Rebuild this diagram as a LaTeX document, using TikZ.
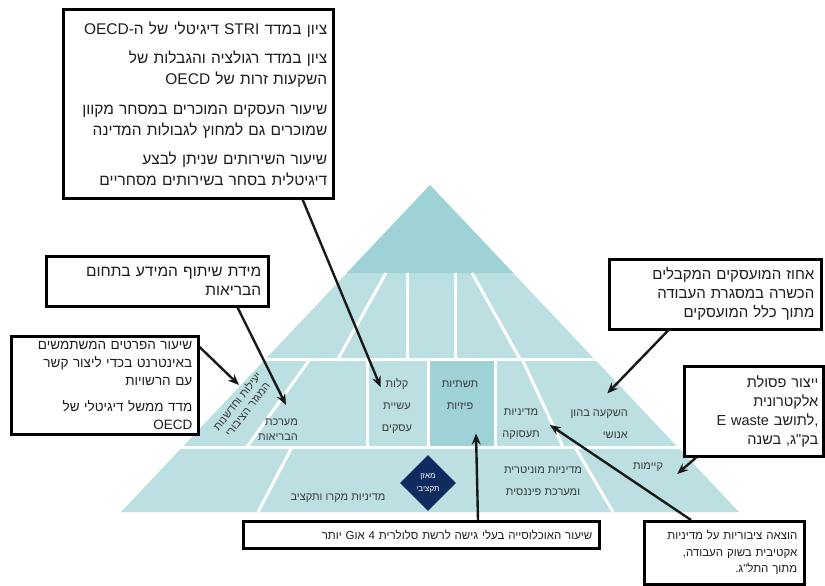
\documentclass[tikz,border=0pt]{standalone}
\usepackage{fontspec}
\setmainfont{Liberation Sans}
\newfontfamily\heb[Script=Hebrew]{Liberation Sans}
\TeXXeTstate=1
\usetikzlibrary{arrows.meta,calc,shapes.geometric}
\definecolor{pyrlight}{HTML}{BCDFE2}
\definecolor{pyrdark}{HTML}{9FD2D7}
\definecolor{navy}{HTML}{0F2B60}
\definecolor{labc}{HTML}{3A3A3A}
\definecolor{txtc}{HTML}{1E1E1E}
\newcommand\RL[1]{\beginR #1\endR}
\newcommand\LR[1]{\beginL #1\endL}
\begin{document}
\begin{tikzpicture}[x=1pt,y=-1pt,
  box/.style={draw=black, line width=2.6pt, fill=white, text=txtc, align=right,
    inner xsep=7pt, inner ysep=5pt, anchor=north west},
  lab/.style={text=labc, inner sep=0pt, align=center, font=\heb\fontsize{11}{22}\selectfont},
  wl/.style={white, line width=3pt},
  arr/.style={draw=black!90, line width=2.4pt, -{Stealth[length=11pt,width=9pt]}}]
\useasboundingbox (0,0) rectangle (825,586);

% pyramid body
\fill[pyrlight] (121,512) -- (430,185) -- (739,512) -- cycle;
\fill[pyrdark] (430,185) -- (346.8,273) -- (513.2,273) -- cycle;
\fill[pyrdark] (428,359) rectangle (495,447);
% white separations
\draw[wl] (240,359) -- (620,359);
\draw[wl] (160,447) -- (700,447);
\draw[wl] (386,273) -- (338,359);
\draw[wl] (407,273) -- (407,359);
\draw[wl] (455,273) -- (455,359);
\draw[wl] (472,273) -- (520,359);
\draw[wl] (310,359) -- (247,447);
\draw[wl] (367,359) -- (367,447);
\draw[wl] (428,359) -- (428,447);
\draw[wl] (495,359) -- (495,447);
\draw[wl] (522,359) -- (563,447);
\draw[wl] (292,447) -- (258,512);
\draw[wl] (575,447) -- (613,512);

% pyramid labels
\node[lab] (kalut) at (397,406) {\RL{קלות}\\\RL{עשיית}\\\RL{עסקים}};
\node[lab] (tashtiot) at (460,395) {\RL{תשתיות}\\\RL{פיזיות}};
\node[lab] (taasuka) at (521,424) {\RL{מדיניות}\\\RL{תעסוקה}};
\node[lab, align=right, anchor=east] (hon) at (628,424) {\RL{השקעה בהון}\\\RL{אנושי}};
\node[lab, align=right, anchor=east, font=\heb\fontsize{11}{15}\selectfont] (briut) at (298,430) {\RL{מערכת}\\\RL{הבריאות}};
\node[lab, rotate=52, font=\heb\fontsize{11}{13}\selectfont] (yeilut) at (242,405) {\RL{יעילות וחדשנות}\\\RL{המגזר הציבורי}};
\node[lab] (makro) at (338,498) {\RL{מדיניות מקרו ותקציב}};
\node[lab] (monet) at (543,481) {\RL{מדיניות מוניטרית}\\\RL{ומערכת פיננסית}};
\node[lab] (kayamut) at (648,467) {\RL{קיימות}};
\node[diamond, fill=navy, minimum width=56, minimum height=56, inner sep=0pt, text=white,
  align=center, font=\heb\fontsize{8}{13}\selectfont] (mazan) at (428,483) {\RL{מאזן}\\\RL{תקציבי}};

% boxes
\node[box, minimum width=270, minimum height=189, text width=258, inner xsep=6pt, font=\heb\fontsize{15.5}{21}\selectfont] (b1) at (62,8)
 {\RL{ציון במדד STRI דיגיטלי של ה-OECD}\\[8.5pt]
  \RL{ציון במדד רגולציה והגבלות של}\\
  \RL{השקעות זרות של OECD}\\[8.5pt]
  \RL{שיעור העסקים המוכרים במסחר מקוון}\\
  \RL{שמוכרים גם למחוץ לגבולות המדינה}\\[8.5pt]
  \RL{שיעור השירותים שניתן לבצע}\\
  \RL{דיגיטלית בסחר בשירותים מסחריים}};
\node[box, minimum width=222, minimum height=50, text width=208, font=\heb\fontsize{15.5}{18.5}\selectfont] (b2) at (45,255)
 {\RL{מידת שיתוף המידע בתחום}\\\RL{הבריאות}};
\node[box, minimum width=187, minimum height=97, text width=175, inner xsep=6pt, font=\heb\fontsize{13.5}{18}\selectfont] (b3) at (10,335)
 {\RL{שיעור הפרטים המשתמשים}\\\RL{באינטרנט בכדי ליצור קשר}\\\RL{עם הרשויות}\\[8pt]
  \RL{מדד ממשל דיגיטלי של}\\\LR{OECD}};
\node[box, minimum width=212, minimum height=70, text width=198, font=\heb\fontsize{15}{19}\selectfont] (b4) at (608,258)
 {\RL{אחוז המועסקים המקבלים}\\\RL{הכשרה במסגרת העבודה}\\\RL{מתוך כלל המועסקים}};
\node[box, minimum width=139, minimum height=90, text width=129, inner xsep=5pt, font=\heb\fontsize{14.5}{19}\selectfont] (b5) at (683,365)
 {\RL{ייצור פסולת}\\\RL{אלקטרונית}\\\mbox{\LR{E waste}~\RL{לתושב}\LR{,}}\\\RL{בק"ג, בשנה}};
\node[box, minimum width=160, minimum height=63, text width=146, font=\heb\fontsize{11.5}{16.5}\selectfont] (b6) at (643,520)
 {\RL{הוצאה ציבוריות על מדיניות}\\\RL{אקטיבית בשוק העבודה,}\\\RL{מתוך התל"ג.}};
\node[box, minimum width=356, minimum height=27, text width=342, font=\heb\fontsize{11.5}{14}\selectfont] (b7) at (242,520)
 {\RL{שיעור האוכלוסייה בעלי גישה לרשת סלולרית 4 Gאו יותר}};

% connectors
\draw[arr] ([xshift=-32pt]b1.south east) -- ($(kalut.north west)+(-1,9)$);
\draw[arr] ([xshift=-32pt]b2.south east) -- ($(briut.north)+(8,-14)$);
\draw[arr] ($(b3.north east)+(0,12)$) -- ($(yeilut.center)+(-3,-20)$);
\draw[arr] ([xshift=60pt]b4.south west) -- ($(hon.north)+(8,-16)$);
\draw[arr] ([xshift=13pt]b5.south west) -- ($(kayamut.east)+(14,7)$);
\draw[arr] ([xshift=48pt]b6.north west) -- ($(taasuka.east)+(10,1)$);
\draw[arr] ([xshift=236pt]b7.north west) -- ($(tashtiot.south)+(16,24)$);
\end{tikzpicture}
\end{document}
